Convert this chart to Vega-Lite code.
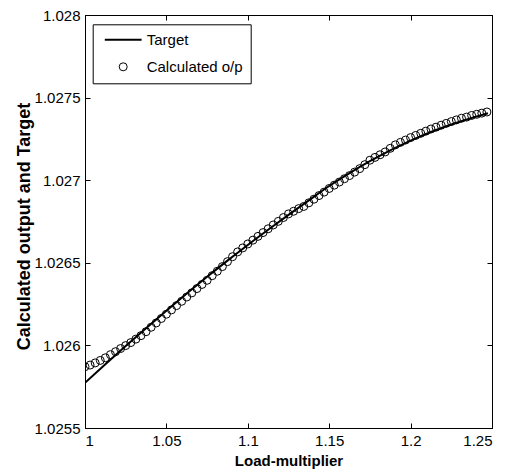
{
  "$schema": "https://vega.github.io/schema/vega-lite/v6.json",
  "width": 407,
  "height": 413,
  "autosize": "none",
  "padding": {"left": 85, "top": 15, "right": 17, "bottom": 46},
  "background": "white",
  "datasets": {
    "target": [
      {"load": 1.0, "value": 1.025774},
      {"load": 1.0125, "value": 1.025886},
      {"load": 1.025, "value": 1.025996},
      {"load": 1.0375, "value": 1.026104},
      {"load": 1.05, "value": 1.02621},
      {"load": 1.0625, "value": 1.026314},
      {"load": 1.075, "value": 1.026415},
      {"load": 1.0875, "value": 1.026513},
      {"load": 1.1, "value": 1.026608},
      {"load": 1.1125, "value": 1.0267},
      {"load": 1.125, "value": 1.02679},
      {"load": 1.1375, "value": 1.026878},
      {"load": 1.15, "value": 1.026965},
      {"load": 1.1625, "value": 1.027043},
      {"load": 1.175, "value": 1.027115},
      {"load": 1.1875, "value": 1.027181},
      {"load": 1.2, "value": 1.02724},
      {"load": 1.2125, "value": 1.027292},
      {"load": 1.225, "value": 1.027337},
      {"load": 1.2375, "value": 1.027377},
      {"load": 1.2475, "value": 1.027405}
    ],
    "calc": [
      {"load": 1.0, "value": 1.025871, "series": "Calculated o/p"},
      {"load": 1.003125, "value": 1.025881, "series": "Calculated o/p"},
      {"load": 1.00625, "value": 1.025894, "series": "Calculated o/p"},
      {"load": 1.009375, "value": 1.025909, "series": "Calculated o/p"},
      {"load": 1.0125, "value": 1.025925, "series": "Calculated o/p"},
      {"load": 1.015625, "value": 1.025944, "series": "Calculated o/p"},
      {"load": 1.01875, "value": 1.025962, "series": "Calculated o/p"},
      {"load": 1.021875, "value": 1.025981, "series": "Calculated o/p"},
      {"load": 1.025, "value": 1.025999, "series": "Calculated o/p"},
      {"load": 1.028125, "value": 1.026017, "series": "Calculated o/p"},
      {"load": 1.03125, "value": 1.026038, "series": "Calculated o/p"},
      {"load": 1.034375, "value": 1.026059, "series": "Calculated o/p"},
      {"load": 1.0375, "value": 1.026083, "series": "Calculated o/p"},
      {"load": 1.040625, "value": 1.02611, "series": "Calculated o/p"},
      {"load": 1.04375, "value": 1.026136, "series": "Calculated o/p"},
      {"load": 1.046875, "value": 1.026163, "series": "Calculated o/p"},
      {"load": 1.05, "value": 1.026189, "series": "Calculated o/p"},
      {"load": 1.053125, "value": 1.026215, "series": "Calculated o/p"},
      {"load": 1.05625, "value": 1.026241, "series": "Calculated o/p"},
      {"load": 1.059375, "value": 1.026267, "series": "Calculated o/p"},
      {"load": 1.0625, "value": 1.026293, "series": "Calculated o/p"},
      {"load": 1.065625, "value": 1.026318, "series": "Calculated o/p"},
      {"load": 1.06875, "value": 1.026344, "series": "Calculated o/p"},
      {"load": 1.071875, "value": 1.026369, "series": "Calculated o/p"},
      {"load": 1.075, "value": 1.026394, "series": "Calculated o/p"},
      {"load": 1.078125, "value": 1.026422, "series": "Calculated o/p"},
      {"load": 1.08125, "value": 1.026449, "series": "Calculated o/p"},
      {"load": 1.084375, "value": 1.026477, "series": "Calculated o/p"},
      {"load": 1.0875, "value": 1.026507, "series": "Calculated o/p"},
      {"load": 1.090625, "value": 1.026537, "series": "Calculated o/p"},
      {"load": 1.09375, "value": 1.026566, "series": "Calculated o/p"},
      {"load": 1.096875, "value": 1.02659, "series": "Calculated o/p"},
      {"load": 1.1, "value": 1.026614, "series": "Calculated o/p"},
      {"load": 1.103125, "value": 1.026637, "series": "Calculated o/p"},
      {"load": 1.10625, "value": 1.02666, "series": "Calculated o/p"},
      {"load": 1.109375, "value": 1.026683, "series": "Calculated o/p"},
      {"load": 1.1125, "value": 1.026706, "series": "Calculated o/p"},
      {"load": 1.115625, "value": 1.026729, "series": "Calculated o/p"},
      {"load": 1.11875, "value": 1.026751, "series": "Calculated o/p"},
      {"load": 1.121875, "value": 1.026774, "series": "Calculated o/p"},
      {"load": 1.125, "value": 1.026796, "series": "Calculated o/p"},
      {"load": 1.128125, "value": 1.026812, "series": "Calculated o/p"},
      {"load": 1.13125, "value": 1.026828, "series": "Calculated o/p"},
      {"load": 1.134375, "value": 1.026841, "series": "Calculated o/p"},
      {"load": 1.1375, "value": 1.026863, "series": "Calculated o/p"},
      {"load": 1.140625, "value": 1.026885, "series": "Calculated o/p"},
      {"load": 1.14375, "value": 1.026907, "series": "Calculated o/p"},
      {"load": 1.146875, "value": 1.026928, "series": "Calculated o/p"},
      {"load": 1.15, "value": 1.02695, "series": "Calculated o/p"},
      {"load": 1.153125, "value": 1.02697, "series": "Calculated o/p"},
      {"load": 1.15625, "value": 1.026989, "series": "Calculated o/p"},
      {"load": 1.159375, "value": 1.027009, "series": "Calculated o/p"},
      {"load": 1.1625, "value": 1.027028, "series": "Calculated o/p"},
      {"load": 1.165625, "value": 1.027049, "series": "Calculated o/p"},
      {"load": 1.16875, "value": 1.02707, "series": "Calculated o/p"},
      {"load": 1.171875, "value": 1.027094, "series": "Calculated o/p"},
      {"load": 1.175, "value": 1.027121, "series": "Calculated o/p"},
      {"load": 1.178125, "value": 1.027138, "series": "Calculated o/p"},
      {"load": 1.18125, "value": 1.027154, "series": "Calculated o/p"},
      {"load": 1.184375, "value": 1.027171, "series": "Calculated o/p"},
      {"load": 1.1875, "value": 1.027193, "series": "Calculated o/p"},
      {"load": 1.190625, "value": 1.027214, "series": "Calculated o/p"},
      {"load": 1.19375, "value": 1.027229, "series": "Calculated o/p"},
      {"load": 1.196875, "value": 1.027243, "series": "Calculated o/p"},
      {"load": 1.2, "value": 1.027258, "series": "Calculated o/p"},
      {"load": 1.203125, "value": 1.027271, "series": "Calculated o/p"},
      {"load": 1.20625, "value": 1.027284, "series": "Calculated o/p"},
      {"load": 1.209375, "value": 1.027297, "series": "Calculated o/p"},
      {"load": 1.2125, "value": 1.02731, "series": "Calculated o/p"},
      {"load": 1.215625, "value": 1.027321, "series": "Calculated o/p"},
      {"load": 1.21875, "value": 1.027333, "series": "Calculated o/p"},
      {"load": 1.221875, "value": 1.027344, "series": "Calculated o/p"},
      {"load": 1.225, "value": 1.027355, "series": "Calculated o/p"},
      {"load": 1.228125, "value": 1.027365, "series": "Calculated o/p"},
      {"load": 1.23125, "value": 1.027375, "series": "Calculated o/p"},
      {"load": 1.234375, "value": 1.027382, "series": "Calculated o/p"},
      {"load": 1.2375, "value": 1.027392, "series": "Calculated o/p"},
      {"load": 1.240625, "value": 1.027399, "series": "Calculated o/p"},
      {"load": 1.24375, "value": 1.027406, "series": "Calculated o/p"},
      {"load": 1.246875, "value": 1.027413, "series": "Calculated o/p"}
    ]
  },
  "layer": [
    {
      "data": {"name": "target"},
      "mark": {"type": "line", "color": "black", "strokeWidth": 2, "interpolate": "monotone", "clip": true},
      "encoding": {
        "x": {
          "field": "load", "type": "quantitative",
          "scale": {"domain": [1, 1.25], "nice": false, "zero": false},
          "axis": {"orient": "bottom", "values": [1, 1.05, 1.1, 1.15, 1.2, 1.25], "format": "~g", "title": "Load-multiplier", "titlePadding": 5}
        },
        "y": {
          "field": "value", "type": "quantitative",
          "scale": {"domain": [1.0255, 1.028], "nice": false, "zero": false},
          "axis": {"orient": "left", "values": [1.0255, 1.026, 1.0265, 1.027, 1.0275, 1.028], "format": "~g", "title": "Calculated output and Target", "titlePadding": 1, "titleY": 211}
        }
      }
    },
    {
      "data": {"name": "calc"},
      "mark": {"type": "point", "filled": false, "color": "black", "opacity": 1, "clip": true},
      "encoding": {
        "x": {
          "field": "load", "type": "quantitative",
          "axis": {"orient": "top", "values": [1, 1.05, 1.1, 1.15, 1.2, 1.25], "labels": false, "title": null}
        },
        "y": {
          "field": "value", "type": "quantitative",
          "axis": {"orient": "right", "values": [1.0255, 1.026, 1.0265, 1.027, 1.0275, 1.028], "labels": false, "title": null}
        },
        "shape": {
          "field": "series", "type": "nominal",
          "scale": {"domain": ["Target", "Calculated o/p"], "range": ["M-4.6,0H4.6", "circle"]},
          "legend": {
            "title": null,
            "orient": "none",
            "legendX": 7.7,
            "legendY": 9.3,
            "padding": 8,
            "symbolOffset": 15,
            "labelOffset": 16,
            "rowPadding": 11,
            "strokeColor": "black",
            "fillColor": "white",
            "symbolStrokeColor": "black",
            "symbolFillColor": "transparent",
            "labelFont": "Liberation Sans",
            "labelFontSize": 15,
            "labelColor": "black"
          }
        },
        "size": {
          "field": "series", "type": "nominal",
          "scale": {"domain": ["Target", "Calculated o/p"], "range": [64, 64]}
        },
        "strokeWidth": {
          "field": "series", "type": "nominal",
          "scale": {"domain": ["Target", "Calculated o/p"], "range": [2, 1]}
        }
      }
    }
  ],
  "resolve": {"axis": {"x": "independent", "y": "independent"}},
  "config": {
    "view": {"stroke": "black", "strokeWidth": 1},
    "axis": {
      "grid": false,
      "domainColor": "black",
      "domainWidth": 1,
      "tickColor": "black",
      "tickSize": -5,
      "tickWidth": 1,
      "labelPadding": 10,
      "labelFont": "Liberation Sans",
      "labelFontSize": 15,
      "labelColor": "black",
      "titleFont": "Liberation Sans",
      "titleFontSize": 15,
      "titleFontWeight": "bold",
      "titleColor": "black"
    },
    "axisLeft": {"titleFontSize": 18},
    "legend": {"cornerRadius": 0}
  }
}
